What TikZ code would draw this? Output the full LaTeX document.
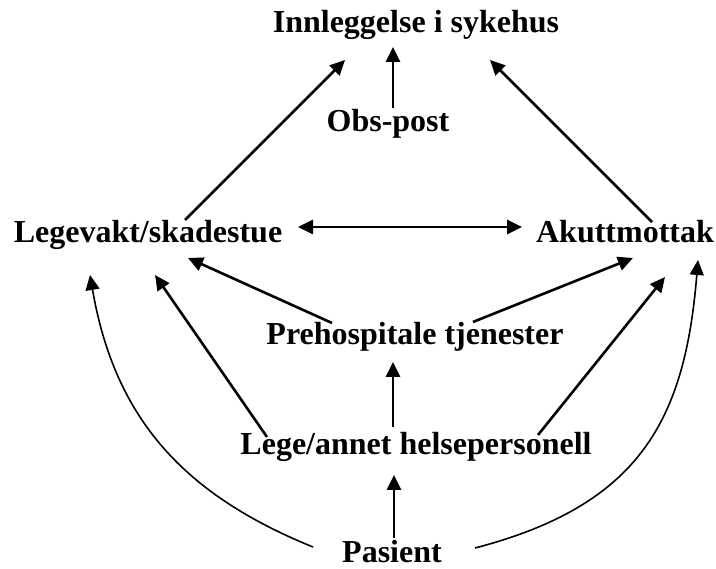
\documentclass[tikz,border=0pt]{standalone}
\usepackage{fontspec}
\setmainfont{Liberation Serif}
\usetikzlibrary{arrows.meta}
\tikzset{
  lbl/.style={anchor=base, inner sep=0pt, font=\fontsize{32}{36}\selectfont\bfseries},
  arr/.style={line width=2.6pt, -{Triangle[length=15pt,width=14pt]}},
  darr/.style={line width=2.6pt, {Triangle[length=15pt,width=14pt]}-{Triangle[length=15pt,width=14pt]}},
  carr/.style={line width=1.6pt, -{Triangle[length=15pt,width=14pt]}}
}
\begin{document}
\begin{tikzpicture}[x=1pt,y=-1pt]
\useasboundingbox (0,0) rectangle (716,569);
\node[lbl] (inn) at (416,33) {Innleggelse i sykehus};
\node[lbl] (obs) at (388,132) {Obs-post};
\node[lbl] (leg) at (148,243) {Legevakt/skadestue};
\node[lbl] (aku) at (625,243) {Akuttmottak};
\node[lbl] (pre) at (415,345) {Prehospitale tjenester};
\node[lbl] (lla) at (416,455) {Lege/annet helsepersonell};
\node[lbl] (pas) at (392,563) {Pasient};

\draw[arr] ([shift={(5,-24)}]obs.base) -- ([shift={(-23,14)}]inn.base);
\draw[arr] ([shift={(37,-23)}]leg.base) -- ([shift={(-71,27)}]inn.base);
\draw[arr] ([shift={(27,-21)}]aku.base) -- ([shift={(74,27)}]inn.base);
\draw[darr] ([shift={(150,-16)}]leg.base) -- ([shift={(-103,-16)}]aku.base);
\draw[arr] ([shift={(-83,-22)}]pre.base) -- ([shift={(40,15)}]leg.base);
\draw[arr] ([shift={(58,-23)}]pre.base) -- ([shift={(8,15)}]aku.base);
\draw[arr] ([shift={(-149,-18)}]lla.base) -- ([shift={(7,32)}]leg.base);
\draw[arr] ([shift={(122,-20)}]lla.base) -- ([shift={(40,34)}]aku.base);
\draw[arr] ([shift={(-23,-28)}]lla.base) -- ([shift={(-22,17)}]pre.base);
\draw[arr] ([shift={(2,-25)}]pas.base) -- ([shift={(-22,20)}]lla.base);
\draw[carr] ([shift={(-79,-16)}]pas.base) .. controls (185,495) and (115,420) .. ([shift={(-58,32)}]leg.base);
\draw[carr] ([shift={(83,-15)}]pas.base) .. controls (640,505) and (685,420) .. ([shift={(73,17)}]aku.base);
\end{tikzpicture}
\end{document}
